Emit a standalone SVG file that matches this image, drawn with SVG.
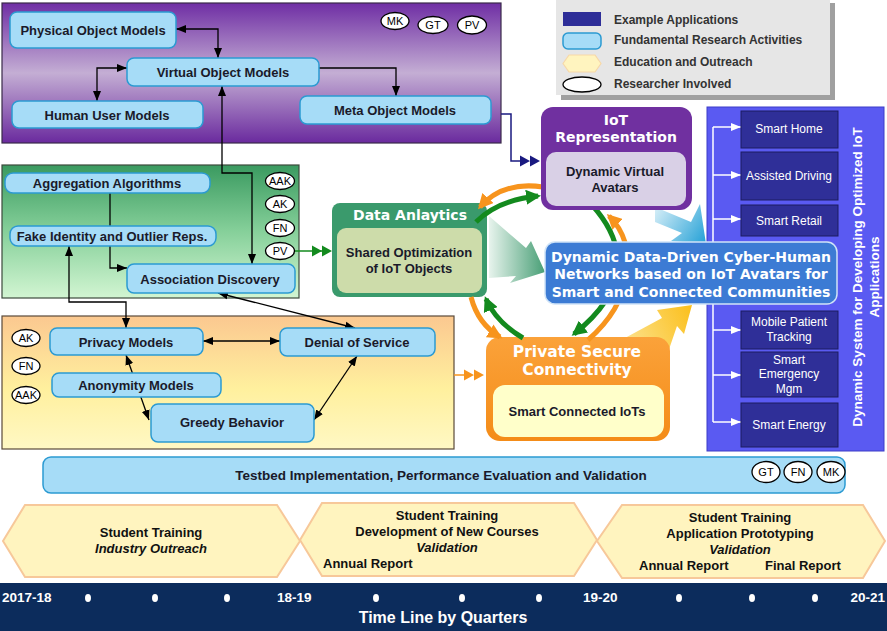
<svg xmlns="http://www.w3.org/2000/svg" width="887" height="631" viewBox="0 0 887 631">
<style>
.node{fill:#a6dcf7;stroke:#2b9ad2;stroke-width:1.5}
.nt{font-family:"Liberation Sans",Arial,sans-serif;font-weight:bold;font-size:13px;fill:#1a1a2a;text-anchor:middle}
.ov{fill:#fff;stroke:#000;stroke-width:1.3}
.ot{font-family:"Liberation Sans",Arial,sans-serif;font-size:11px;fill:#000;text-anchor:middle}
.conn{stroke:#000;stroke-width:1.3;fill:none}
.ttl{font-family:"DejaVu Sans",Verdana,sans-serif;font-weight:bold;fill:#fff;text-anchor:middle}
.app{fill:#2f2f98;stroke:#1d1d60;stroke-width:1}
.at{font-family:"Liberation Sans",Arial,sans-serif;font-size:12px;fill:#fff;text-anchor:middle}
.hex{fill:#fff4bf;stroke:#f7c89a;stroke-width:2}
.ht{font-family:"Liberation Sans",Arial,sans-serif;font-weight:bold;font-size:13px;fill:#111;text-anchor:middle}
.hs{font-family:"Liberation Sans",Arial,sans-serif;font-weight:bold;font-size:13px;fill:#111;text-anchor:start}
.lt{font-family:"Liberation Sans",Arial,sans-serif;font-weight:bold;font-size:12px;fill:#333}
.yr{font-family:"Liberation Sans",Arial,sans-serif;font-weight:bold;font-size:13.5px;fill:#fff}
.tree{stroke:#fff;stroke-width:1.5;fill:none}
</style>
<defs>
<linearGradient id="gPurple" x1="0" y1="0" x2="0" y2="1">
<stop offset="0" stop-color="#6f2ea4"/><stop offset="0.5" stop-color="#c4aed4"/><stop offset="1" stop-color="#6a2a9e"/>
</linearGradient>
<linearGradient id="gGreen" x1="0" y1="0" x2="0" y2="1">
<stop offset="0" stop-color="#3a9a60"/><stop offset="0.5" stop-color="#86d09a"/><stop offset="1" stop-color="#d2f5d2"/>
</linearGradient>
<linearGradient id="gOrange" x1="0" y1="0" x2="0" y2="1">
<stop offset="0" stop-color="#fbc890"/><stop offset="0.55" stop-color="#fff09e"/><stop offset="1" stop-color="#fff8c4"/>
</linearGradient>
<linearGradient id="gPS" x1="0" y1="0" x2="0" y2="1">
<stop offset="0" stop-color="#fba23a"/><stop offset="1" stop-color="#f48c18"/>
</linearGradient>
<linearGradient id="gTeal" x1="489" y1="0" x2="545" y2="0" gradientUnits="userSpaceOnUse">
<stop offset="0" stop-color="#e6f3ec"/><stop offset="1" stop-color="#3f9a6f"/>
</linearGradient>
<linearGradient id="gCyan" x1="650" y1="207" x2="706" y2="244" gradientUnits="userSpaceOnUse">
<stop offset="0" stop-color="#e4f4fa"/><stop offset="1" stop-color="#22a0d6"/>
</linearGradient>
<linearGradient id="gYellow" x1="612" y1="345" x2="692" y2="305" gradientUnits="userSpaceOnUse">
<stop offset="0" stop-color="#fde7a0"/><stop offset="1" stop-color="#fbbf1a"/>
</linearGradient>
<marker id="ah" viewBox="0 0 10 10" refX="10" refY="5" markerWidth="10" markerHeight="10" markerUnits="userSpaceOnUse" orient="auto-start-reverse"><path d="M0,1 L10,5 L0,9 z" fill="#000"/></marker>
<marker id="ahW" viewBox="0 0 10 10" refX="10" refY="5" markerWidth="12" markerHeight="10" markerUnits="userSpaceOnUse" orient="auto"><path d="M0,1 L10,5 L0,9 z" fill="#fff"/></marker>
<marker id="ahO" viewBox="0 0 10 10" refX="8" refY="5" markerWidth="15" markerHeight="15" markerUnits="userSpaceOnUse" orient="auto"><path d="M0,0 L10,5 L0,10 z" fill="#f7941d"/></marker>
<marker id="ahG" viewBox="0 0 10 10" refX="8" refY="5" markerWidth="15" markerHeight="15" markerUnits="userSpaceOnUse" orient="auto"><path d="M0,0 L10,5 L0,10 z" fill="#138a1e"/></marker>
</defs>
<rect x="0" y="0" width="887" height="631" fill="#fff"/>

<g id="panel-objects">
<rect x="2" y="3" width="499" height="140" fill="url(#gPurple)" stroke="#3a2a4a" stroke-width="1.2"/>
</g>
<g id="panel-analytics">
<rect x="2" y="165" width="297" height="133" fill="url(#gGreen)" stroke="#3c4a3c" stroke-width="1.2"/>
</g>
<g id="panel-security">
<rect x="2" y="316" width="452" height="133" fill="url(#gOrange)" stroke="#5a4a3a" stroke-width="1.2"/>
</g>

<g id="legend">
<rect x="561" y="3" width="274" height="97" fill="#a0a0a0"/>
<rect x="556" y="-2" width="274" height="97" fill="#e6e6e6"/>
<rect x="563" y="12" width="38" height="14" fill="#2e2e98"/>
<rect x="563" y="33" width="38" height="16" rx="5" class="node"/>
<polygon points="563,63.5 569,55 595,55 601,63.5 595,72 569,72" fill="#fff4bf" stroke="#f7d8a8" stroke-width="1.2"/>
<ellipse cx="582" cy="84.5" rx="19" ry="7.5" class="ov"/>
<text x="614" y="24" class="lt">Example Applications</text>
<text x="614" y="44" class="lt">Fundamental Research Activities</text>
<text x="614" y="66" class="lt">Education and Outreach</text>
<text x="614" y="88" class="lt">Researcher Involved</text>
</g>

<g id="applications-panel">
<rect x="707" y="107" width="177" height="344" fill="#5a5af2" stroke="#3c3cc8" stroke-width="1"/>
<path class="tree" d="M713,127 V422"/>
<path class="tree" d="M713,127 H741" marker-end="url(#ahW)"/>
<path class="tree" d="M713,175 H741" marker-end="url(#ahW)"/>
<path class="tree" d="M713,219 H741" marker-end="url(#ahW)"/>
<path class="tree" d="M713,330 H741" marker-end="url(#ahW)"/>
<path class="tree" d="M713,375 H741" marker-end="url(#ahW)"/>
<path class="tree" d="M713,422 H741" marker-end="url(#ahW)"/>
<text transform="translate(862,277) rotate(-90)" class="ttl" style="font-family:'Liberation Sans',Arial,sans-serif;font-size:13.5px">Dynamic System for Developing Optimized IoT</text>
<text transform="translate(879,277) rotate(-90)" class="ttl" style="font-family:'Liberation Sans',Arial,sans-serif;font-size:13.5px">Applications</text>
</g>
<g id="app-smart-home"><rect x="741" y="111" width="97" height="37" class="app"/><text x="789" y="133" class="at">Smart Home</text></g>
<g id="app-assisted-driving"><rect x="741" y="152" width="97" height="48" class="app"/><text x="789" y="180" class="at">Assisted Driving</text></g>
<g id="app-smart-retail"><rect x="741" y="205" width="97" height="31" class="app"/><text x="789" y="224.5" class="at">Smart Retail</text></g>
<g id="app-mobile-patient"><rect x="741" y="311" width="97" height="38" class="app"/><text x="789" y="326" class="at">Mobile Patient</text><text x="789" y="341" class="at">Tracking</text></g>
<g id="app-smart-emergency"><rect x="741" y="352" width="97" height="45" class="app"/><text x="789" y="364" class="at">Smart</text><text x="789" y="378" class="at">Emergency</text><text x="789" y="393" class="at">Mgm</text></g>
<g id="app-smart-energy"><rect x="741" y="403" width="97" height="44" class="app"/><text x="789" y="429" class="at">Smart Energy</text></g>

<g id="big-arrows">
<polygon points="489,216 526,248 531,241 545,272 510,283 516,276 489,278" fill="url(#gTeal)" opacity="0.95"/>
<polygon points="655,207 691,222 700,204 706,244 671,241 682,233 655,222" fill="url(#gCyan)"/>
<polygon points="612,345 662,318 657,310 692,305 684,334 677,326 666,358" fill="url(#gYellow)"/>
</g>

<g id="connectors">
<path class="conn" d="M176,29 H218 V58" marker-start="url(#ah)" marker-end="url(#ah)"/>
<path class="conn" d="M127,68 H97 V101" marker-start="url(#ah)" marker-end="url(#ah)"/>
<path class="conn" d="M319,68 H396 V96" marker-end="url(#ah)"/>
<path class="conn" d="M222,86 V173 H252 V264" marker-start="url(#ah)" marker-end="url(#ah)"/>
<path class="conn" d="M110,193 V268 H127" marker-end="url(#ah)"/>
<path class="conn" d="M69,246 V302 H126 V328" marker-start="url(#ah)" marker-end="url(#ah)"/>
<path class="conn" d="M218,293 L355,328" marker-start="url(#ah)" marker-end="url(#ah)"/>
<path class="conn" d="M203,341 H280" marker-start="url(#ah)" marker-end="url(#ah)"/>
<path class="conn" d="M126,355 L149,420" marker-start="url(#ah)" marker-end="url(#ah)"/>
<path class="conn" d="M314,420 L357,356" marker-start="url(#ah)" marker-end="url(#ah)"/>
<path d="M295,251 H322" stroke="#138a1e" stroke-width="1.5"/>
<path d="M312,245.5 L322,251 L312,256.5 z M322,245.5 L332,251 L322,256.5 z" fill="#138a1e"/>
<path d="M501,114 H511 V161 H520" stroke="#1a1a80" stroke-width="1.5" fill="none"/>
<path d="M520,155.5 L530,161 L520,166.5 z M530,155.5 L540,161 L530,166.5 z" fill="#1a1a80"/>
<path d="M454,375 H465" stroke="#f7941d" stroke-width="1.5"/>
<path d="M464,369.5 L474,375 L464,380.5 z M474,369.5 L484,375 L474,380.5 z" fill="#f7941d"/>
</g>

<g id="ovals">
<ellipse cx="395" cy="21" rx="14" ry="8.5" class="ov"/><text x="395" y="25" class="ot">MK</text>
<ellipse cx="433" cy="25" rx="15" ry="8.5" class="ov"/><text x="433" y="29" class="ot">GT</text>
<ellipse cx="472" cy="25" rx="14.5" ry="9" class="ov"/><text x="472" y="29" class="ot">PV</text>
<ellipse cx="280" cy="181" rx="14.5" ry="8.5" class="ov"/><text x="280" y="185" class="ot">AAK</text>
<ellipse cx="280" cy="204" rx="14.5" ry="8.5" class="ov"/><text x="280" y="208" class="ot">AK</text>
<ellipse cx="280" cy="228" rx="14.5" ry="8.5" class="ov"/><text x="280" y="232" class="ot">FN</text>
<ellipse cx="280" cy="251" rx="14.5" ry="8.5" class="ov"/><text x="280" y="255" class="ot">PV</text>
<ellipse cx="26" cy="338" rx="14" ry="8.5" class="ov"/><text x="26" y="342" class="ot">AK</text>
<ellipse cx="26" cy="366" rx="14" ry="8.5" class="ov"/><text x="26" y="370" class="ot">FN</text>
<ellipse cx="26" cy="395" rx="14" ry="8.5" class="ov"/><text x="26" y="399" class="ot">AAK</text>
</g>

<g id="physical-object-models"><rect x="10" y="12" width="166" height="36" rx="7" class="node"/><text x="93" y="34.5" class="nt">Physical Object Models</text></g>
<g id="virtual-object-models"><rect x="127" y="58" width="192" height="28" rx="7" class="node"/><text x="223" y="76.5" class="nt">Virtual Object Models</text></g>
<g id="human-user-models"><rect x="12" y="101" width="191" height="27" rx="7" class="node"/><text x="107" y="119.5" class="nt">Human User Models</text></g>
<g id="meta-object-models"><rect x="300" y="96" width="191" height="28" rx="7" class="node"/><text x="395" y="114.5" class="nt">Meta Object Models</text></g>
<g id="aggregation-algorithms"><rect x="5" y="173" width="205" height="20" rx="8" class="node"/><text x="107" y="187.5" class="nt">Aggregation Algorithms</text></g>
<g id="fake-identity"><rect x="10" y="226" width="206" height="20" rx="8" class="node"/><text x="112" y="240.5" class="nt">Fake Identity and Outlier Reps.</text></g>
<g id="association-discovery"><rect x="127" y="264" width="168" height="29" rx="7" class="node"/><text x="210" y="283.5" class="nt">Association Discovery</text></g>
<g id="privacy-models"><rect x="50" y="328" width="153" height="27" rx="7" class="node"/><text x="126" y="346.5" class="nt">Privacy Models</text></g>
<g id="denial-of-service"><rect x="280" y="328" width="155" height="28" rx="7" class="node"/><text x="357" y="346.5" class="nt">Denial of Service</text></g>
<g id="anonymity-models"><rect x="52" y="373" width="169" height="24" rx="7" class="node"/><text x="136" y="389.5" class="nt">Anonymity Models</text></g>
<g id="greedy-behavior"><rect x="151" y="404" width="163" height="38" rx="7" class="node"/><text x="232" y="426.5" class="nt">Greedy Behavior</text></g>

<g id="data-analytics">
<rect x="332" y="203" width="155" height="94" rx="8" fill="#3a9a6c"/>
<text x="410" y="220" class="ttl" font-size="14">Data Anlaytics</text>
<rect x="337" y="228" width="145" height="65" rx="9" fill="#cddcaa"/>
<text x="409" y="256.5" class="nt">Shared Optimization</text>
<text x="409" y="272.5" class="nt">of IoT Objects</text>
</g>
<g id="private-secure-connectivity">
<rect x="486" y="337" width="184" height="104" rx="14" fill="url(#gPS)"/>
<text x="577" y="356.5" class="ttl" font-size="15.5">Private Secure</text>
<text x="577" y="374.5" class="ttl" font-size="15.5">Connectivity</text>
<rect x="493" y="385" width="171" height="52" rx="12" fill="#ffffca"/>
<text x="577" y="415.5" class="nt">Smart Connected IoTs</text>
</g>

<g id="cycle-arrows" fill="none" stroke-width="5">
<path d="M543,187 Q503,181 480,207" stroke="#f7941d" marker-end="url(#ahO)"/>
<path d="M476,222 Q498,200 538,196" stroke="#138a1e" marker-end="url(#ahG)"/>
<path d="M588,340 C634,300 639,245 609,216" stroke="#f7941d" marker-end="url(#ahO)"/>
<path d="M592,205 C628,245 630,290 574,334" stroke="#138a1e" marker-end="url(#ahG)"/>
<path d="M523,338 Q496,322 486,299" stroke="#138a1e" marker-end="url(#ahG)"/>
<path d="M471,297 Q478,324 500,337" stroke="#f7941d" marker-end="url(#ahO)"/>
</g>

<g id="iot-representation">
<rect x="541" y="107" width="151" height="103" rx="12" fill="#7030a0"/>
<text x="616" y="125" class="ttl" font-size="14">IoT</text>
<text x="616" y="142" class="ttl" font-size="14">Representation</text>
<rect x="546" y="152" width="140" height="54" rx="10" fill="#d9d0e6"/>
<text x="615" y="175.5" class="nt">Dynamic Virtual</text>
<text x="615" y="191.5" class="nt">Avatars</text>
</g>

<g id="cyber-human-networks">
<rect x="545" y="242" width="292" height="62" rx="10" fill="#3c7bd4" stroke="#cfe3f7" stroke-width="1.5"/>
<text x="691" y="262" class="ttl" font-size="14">Dynamic Data-Driven Cyber-Human</text>
<text x="691" y="279" class="ttl" font-size="14">Networks based on IoT Avatars for</text>
<text x="691" y="297" class="ttl" font-size="14">Smart and Connected Communities</text>
</g>

<g id="testbed">
<rect x="43" y="457" width="802" height="36" rx="8" class="node"/>
<text x="441" y="480" class="nt" style="font-size:13.5px">Testbed Implementation, Performance Evaluation and Validation</text>
<ellipse cx="766" cy="472" rx="14" ry="10.5" class="ov"/><text x="766" y="476" class="ot">GT</text>
<ellipse cx="798" cy="472" rx="14" ry="10.5" class="ov"/><text x="798" y="476" class="ot">FN</text>
<ellipse cx="831" cy="472" rx="14" ry="10.5" class="ov"/><text x="831" y="476" class="ot">MK</text>
</g>

<g id="education-year1">
<polygon points="3,541 25,505 277,505 300,541 277,577 25,577" class="hex"/>
<text x="151" y="537" class="ht">Student Training</text>
<text x="151" y="553" class="ht" font-style="italic">Industry Outreach</text>
</g>
<g id="education-year2">
<polygon points="300,540 322,503 574,503 597,540 574,576 322,576" class="hex"/>
<text x="447" y="520" class="ht">Student Training</text>
<text x="447" y="536" class="ht">Development of New Courses</text>
<text x="447" y="552" class="ht" font-style="italic">Validation</text>
<text x="323" y="568" class="hs">Annual Report</text>
</g>
<g id="education-year3">
<polygon points="597,541 622,505 863,505 885,541 863,578 622,578" class="hex"/>
<text x="740" y="522" class="ht">Student Training</text>
<text x="740" y="538" class="ht">Application Prototyping</text>
<text x="740" y="554" class="ht" font-style="italic">Validation</text>
<text x="639" y="570" class="hs">Annual Report</text>
<text x="765" y="570" class="hs">Final Report</text>
</g>

<g id="timeline">
<rect x="0" y="583" width="887" height="48" fill="#0c2c5c"/>
<text x="2" y="602" class="yr">2017-18</text>
<text x="277" y="602" class="yr">18-19</text>
<text x="583" y="602" class="yr">19-20</text>
<text x="885" y="602" class="yr" style="text-anchor:end">20-21</text>
<g fill="#fff">
<ellipse cx="88" cy="598" rx="3" ry="4"/><ellipse cx="155" cy="598" rx="3" ry="4"/><ellipse cx="227" cy="598" rx="3" ry="4"/>
<ellipse cx="376" cy="598" rx="3" ry="4"/><ellipse cx="462" cy="598" rx="3" ry="4"/><ellipse cx="539" cy="598" rx="3" ry="4"/>
<ellipse cx="679" cy="598" rx="3" ry="4"/><ellipse cx="752" cy="598" rx="3" ry="4"/><ellipse cx="815" cy="598" rx="3" ry="4"/>
</g>
<text x="443" y="623" font-family="'Liberation Sans',Arial,sans-serif" font-weight="bold" font-size="16px" fill="#fff" text-anchor="middle">Time Line by Quarters</text>
</g>
</svg>
